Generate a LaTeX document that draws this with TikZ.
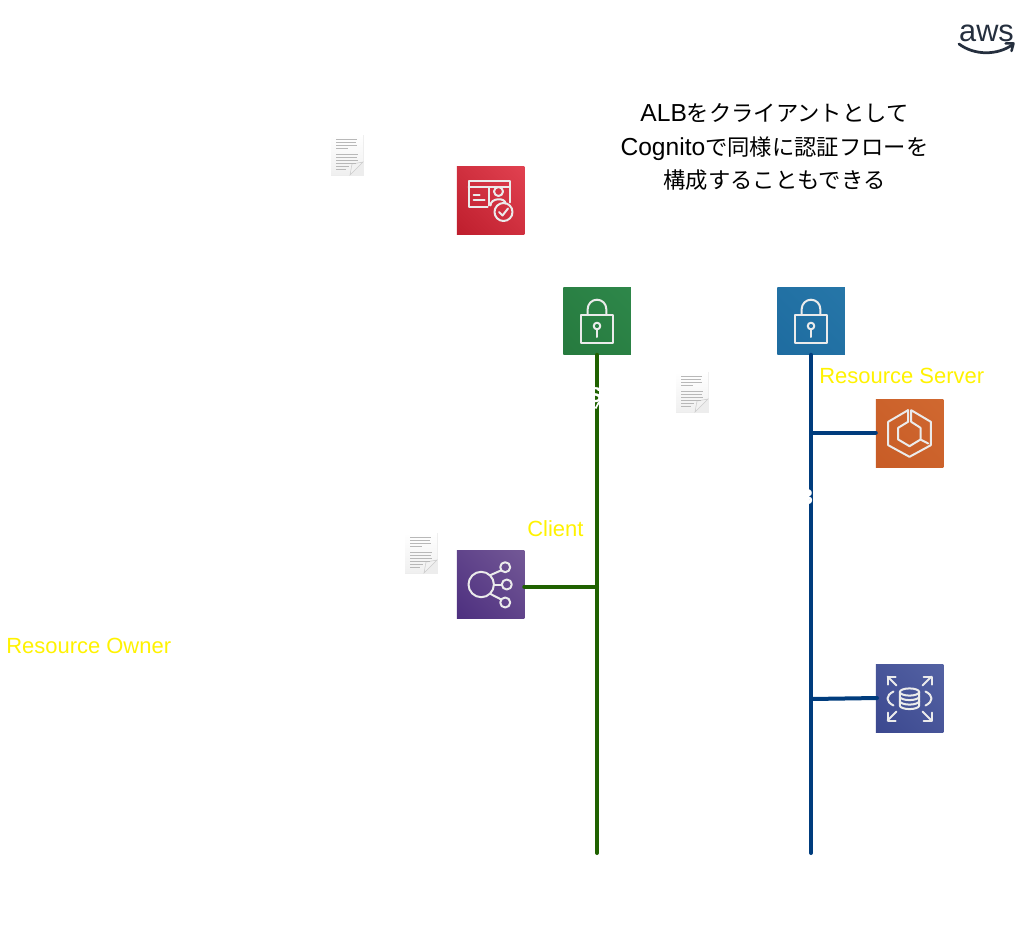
\documentclass[tikz,border=0pt]{standalone}
\usepackage{fontspec}
\setmainfont{Liberation Sans}
\newfontfamily\jpfont{Noto Sans CJK JP}
\usetikzlibrary{shadings}
\newcommand{\jptext}[1]{{\jpfont\fontsize{12.7pt}{19pt}\selectfont #1}}
\definecolor{linegreen}{HTML}{1F6100}
\definecolor{lineblue}{HTML}{003C7D}
\definecolor{awsink}{HTML}{252F3E}
\definecolor{redlow}{HTML}{BE1E2D}
\definecolor{redhigh}{HTML}{E14150}
\definecolor{greenlow}{HTML}{267A3E}
\definecolor{greenhigh}{HTML}{2E874A}
\definecolor{bluelow}{HTML}{1E6CA0}
\definecolor{bluehigh}{HTML}{2676A8}
\definecolor{orangelow}{HTML}{C85C26}
\definecolor{orangehigh}{HTML}{D06830}
\definecolor{purplelow}{HTML}{4D2F7F}
\definecolor{purplehigh}{HTML}{735896}
\definecolor{navylow}{HTML}{3B488F}
\definecolor{navyhigh}{HTML}{5462A3}
\tikzset{
  iconbox/.style n args={2}{minimum size=1.35cm,inner sep=0pt,outer sep=0pt,shade,
    lower left=#1,upper right=#2,upper left=#1!50!#2,lower right=#1!50!#2},
  link/.style={line width=.08cm,line cap=round},
  glyph/.style={draw=white!92!black,line width=.04cm,line join=round,line cap=round},
  ylabel/.style={text=yellow,font=\fontsize{12.5pt}{14pt}\selectfont,inner sep=0pt,anchor=west},
  wlabel/.style={text=white,font=\bfseries\fontsize{12.2pt}{14pt}\selectfont,inner sep=0pt},
  pics/lockglyph/.style={code={
    \draw[glyph] (-16,-6) rectangle (16,22);
    \draw[glyph] (-9.3,-6) -- (-9.3,-12) arc[start angle=180,end angle=360,radius=9.3] -- (9.3,-6);
    \draw[glyph] (0,5) circle[radius=3.3];
    \draw[glyph] (0,8.3) -- (0,16);
  }},
  pics/docicon/.style={code={
    \fill[black!7] (-16.5,-20.5) rectangle (16.5,20.5);
    \shade[top color=white,bottom color=black!6] (-16,-20) -- (16,-20) -- (16,7) -- (3,20) -- (-16,20) -- cycle;
    \fill[white!95!black,draw=black!20,line width=.3pt] (16,7) -- (3,20) -- (5,9) -- cycle;
    \foreach \lx/\ly in {10/-16,9/-13,10/-10,1/-7,11/-1,10/2,11/5,9/8,2/11,-1/14}
      \draw[black!28,line width=.2pt] (-11,\ly) -- (\lx,\ly);
  }},
}
\begin{document}
\begin{tikzpicture}[x=.02cm,y=-.02cm]
\useasboundingbox (0,0) rectangle (1023,926);

\node[iconbox={redlow}{redhigh}] (acm) at (490.5,200.5) {};
\node[iconbox={greenlow}{greenhigh}] (alblock) at (597,321) {};
\node[iconbox={bluelow}{bluehigh}] (apilock) at (811,321) {};
\node[iconbox={orangelow}{orangehigh}] (ecs) at (909.5,433.5) {};
\node[iconbox={purplelow}{purplehigh}] (alb) at (490.5,584.5) {};
\node[iconbox={navylow}{navyhigh}] (rds) at (909.5,698.5) {};

\coordinate (albend) at (597,853);
\coordinate (albjoin) at (597,586.5);
\coordinate (apiend) at (811,853);
\coordinate (ecsjoin) at (811,432.5);
\coordinate (rdsjoin) at (811,699);
\coordinate (rdsend) at (877,698);

\draw[link,linegreen] (alblock.south) -- (albend);
\draw[link,linegreen] (alb.east |- albjoin) -- (albjoin);
\draw[link,lineblue] (apilock.south) -- (apiend);
\draw[link,lineblue] (ecsjoin) -- (ecs.west |- ecsjoin);
\draw[link,lineblue] (rdsjoin) -- (rdsend);

\pic at (alblock) {lockglyph};
\pic at (apilock) {lockglyph};
\pic at (347,155) {docicon};
\pic at (692,392) {docicon};
\pic at (421,553) {docicon};

% certificate
\begin{scope}[shift={(acm.center)}]
\draw[glyph] (-3,6) -- (-22,6) -- (-22,-20) -- (19,-20) -- (19,2);
\draw[glyph] (-22,-14) -- (-1,-14);
\draw[glyph] (-2,5) -- (-2,-14) -- (18,-14);
\draw[glyph] (8,-9) circle[radius=4.5];
\draw[glyph] (0,5) .. controls (0,-3) and (15,-3) .. (15,3);
\draw[glyph] (-17,-1) -- (-6,-1);
\draw[glyph] (-17,-6) -- (-11,-6);
\draw[glyph] (13,11.5) circle[radius=9];
\draw[glyph] (8.5,11.5) -- (12,15) -- (17.5,8);
\end{scope}

% load balancer
\begin{scope}[shift={(alb.center)}]
\draw[glyph] (-9.3,0) circle[radius=12.7];
\draw[glyph] (14.7,-17.3) circle[radius=5];
\draw[glyph] (16.3,0) circle[radius=5];
\draw[glyph] (14.7,18) circle[radius=5];
\draw[glyph] (-0.5,-9.2) -- (10.7,-14.2);
\draw[glyph] (3.4,0) -- (11.3,0);
\draw[glyph] (-0.5,9.2) -- (10.7,15);
\end{scope}

% container hexagon
\begin{scope}[shift={(ecs.center)}]
\draw[glyph] (-1.5,-23.3) -- (-21.3,-11.7) -- (-21.3,11.7) -- (0,23.3) -- (21.3,11.7) -- (21.3,-11.7) -- (1.7,-23.3) -- (1.7,-11.7) -- (11,-5.7) -- (11,6) -- (18.7,10);
\draw[glyph] (-1.5,-23.3) -- (-1.5,-11.7) -- (-11.3,-5.7) -- (-11.3,6) -- (0,12.7) -- (11,6);
\end{scope}

% database
\begin{scope}[shift={(rds.center)}]
\draw[glyph] (-9.7,-6.5) arc[start angle=180,end angle=540,x radius=9.7,y radius=3.6];
\draw[glyph] (-9.7,-6.5) -- (-9.7,7) arc[start angle=180,end angle=0,x radius=9.7,y radius=3.6] -- (9.7,-6.5);
\draw[glyph] (-9.7,-2) arc[start angle=180,end angle=0,x radius=9.7,y radius=3.6];
\draw[glyph] (-9.7,2.5) arc[start angle=180,end angle=0,x radius=9.7,y radius=3.6];
\foreach \sx/\sy in {-1/-1,1/-1,-1/1,1/1} {
  \draw[glyph] (\sx*13,\sy*13) -- (\sx*22,\sy*22);
  \draw[glyph] (\sx*22,\sy*14) -- (\sx*22,\sy*22) -- (\sx*14,\sy*22);
}
\draw[glyph] (-16,-7) .. controls (-24,-3) and (-24,3) .. (-16,7);
\draw[glyph] (16,-7) .. controls (24,-3) and (24,3) .. (16,7);
\end{scope}

\node[ylabel] (serverlabel) at (819,376) {Resource Server};
\node[ylabel] (clientlabel) at (527,529) {Client};
\node[ylabel] (ownerlabel) at (6,645.5) {Resource Owner};
\node[wlabel] (albmark) at (595,395.5) {S};
\coordinate (slashlow) at (595.5,408.5);
\coordinate (slashhigh) at (599,402);
\draw[white,line width=.035cm] (slashlow) -- (slashhigh);
\node[wlabel] (apimark) at (807,497) {3};

\node[align=center,text=black,inner sep=0pt,font=\fontsize{14pt}{19pt}\selectfont] (note) at (774.5,147) {ALB\jptext{をクライアントとして}\\Cognito\jptext{で同様に認証フローを}\\\jptext{構成することもできる}};

\node[text=awsink,inner sep=0pt,font=\fontsize{17.5pt}{20pt}\selectfont] (awslogo) at (986.5,33) {aws};
\coordinate (smilestart) at (959,44);
\coordinate (smileend) at (1012,45);
\draw[awsink,line width=.055cm,line cap=round] (smilestart) .. controls (975,56) and (998,55) .. (smileend);
\draw[awsink,line width=.05cm,line cap=round,line join=round] (1005.5,43.5) -- (1013.5,43.5) -- (1011.5,51);
\end{tikzpicture}
\end{document}
